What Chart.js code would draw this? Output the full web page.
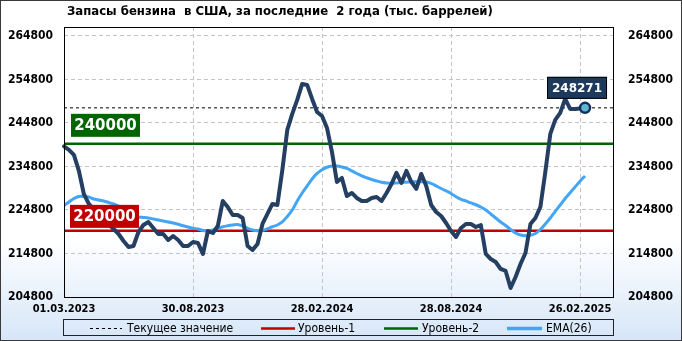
<!DOCTYPE html>
<html><head><meta charset="utf-8">
<script src="https://cdn.jsdelivr.net/npm/chart.js@4.4.1/dist/chart.umd.min.js"></script>
<style>html,body{margin:0;padding:0;background:#fff;}canvas{display:block;}</style>
</head><body>
<canvas id="c" width="682" height="341"></canvas>
<script>
const titleText = 'Запасы бензина  в США, за последние  2 года (тыс. баррелей)';
const tickPositions = [0, 26, 52, 78, 104];
const tickLabels = ['01.03.2023', '30.08.2023', '28.02.2024', '28.08.2024', '26.02.2025'];
const yTicks = [204800, 214800, 224800, 234800, 244800, 254800, 264800];
const stocks = [
  239400, 238600, 237450, 233770, 228480, 226180, 225030, 223880, 222730, 221580,
  220430, 219280, 217670, 216300, 216520, 219740, 221350, 222040, 220660, 219280,
  219280, 217900, 218820, 217900, 216520, 216520, 217440, 217210, 214690, 219970,
  219510, 221120, 226870, 225490, 223650, 223650, 222960, 216520, 215610, 216990,
  221580, 223880, 226180, 225950, 234000, 243190, 246870, 250090, 253770, 253540,
  250320, 247330, 246410, 243650, 238140, 231240, 232160, 228020, 228710, 227560,
  226870, 226870, 227560, 227790, 226870, 228710, 230780, 233310, 231010, 233770,
  231240, 229630, 233080, 230320, 225950, 224340, 223420, 221810, 219970, 218590,
  220660, 221580, 221580, 220890, 221350, 214690, 213540, 212850, 211240, 210780,
  206870, 209400, 212390, 214920, 221580, 222960, 225490, 233540, 242270, 245490,
  247100, 250320, 248020, 248020, 248100, 248271
];
const ema26 = [
  225840, 226640, 227450, 227910, 227910, 227790, 227330, 227100, 226870, 226530,
  226180, 225720, 225030, 224340, 223650, 223190, 223080, 222960, 222730, 222500,
  222270, 222040, 221810, 221510, 221170, 220890, 220590, 220430, 220090, 219930,
  220200, 220550, 220940, 221170, 221350, 221470, 221120, 220590, 220200, 220040,
  220130, 220480, 220940, 221350, 222040, 223310, 224800, 226870, 228710, 230320,
  231930, 233190, 234040, 234620, 234920, 234920, 234690, 234340, 233770, 233190,
  232620, 232200, 231810, 231470, 231170, 231010, 230940, 231010, 231100, 231190,
  231260, 231310, 231280, 231240, 230890, 230320, 229740, 229170, 228600, 227840,
  227260, 226870, 226410, 226000, 225490, 224800, 223880, 222960, 222040, 221240,
  220320, 219510, 219050, 218890, 218990, 219400, 220320, 221580, 222960, 224460,
  225950, 227450, 228760, 230090, 231420, 232620
];
const level1 = 220000;
const level2 = 240000;
const legendLabels = ['Текущее значение', 'Уровень-1', 'Уровень-2', 'EMA(26)'];

const X_MIN = 0, X_MAX = 110.84;
const Y_MIN = 204800, Y_MAX = 266850;
const FAM = '"DejaVu Sans Condensed", "DejaVu Sans", sans-serif';
const NAVY = '#243f62';
const RED = '#c00000';
const GREEN = '#006400';
const BLUE = '#42a5f5';
const current = stocks[stocks.length - 1];
const lastIdx = stocks.length - 1;

const bgPlugin = {
  id: 'bg',
  beforeDraw(chart) {
    const ctx = chart.ctx, W = chart.width, H = chart.height;
    const g = ctx.createLinearGradient(0, 0, 0, H);
    g.addColorStop(0, '#ffffff');
    g.addColorStop(0.70, '#ffffff');
    g.addColorStop(1, '#d6e6f8');
    ctx.save();
    ctx.fillStyle = g;
    ctx.fillRect(0, 0, W, H);
    ctx.restore();
  }
};

function box(ctx, text, x, y, w, h, fill, font, stroke) {
  ctx.save();
  ctx.fillStyle = fill;
  ctx.fillRect(x, y, w, h);
  if (stroke) { ctx.strokeStyle = stroke; ctx.lineWidth = 1; ctx.strokeRect(x + 0.5, y + 0.5, w - 1, h - 1); }
  ctx.fillStyle = '#ffffff';
  ctx.font = font;
  ctx.textAlign = 'center';
  ctx.textBaseline = 'middle';
  ctx.fillText(text, x + w / 2, y + h / 2 + 1);
  ctx.restore();
}

const overlayPlugin = {
  id: 'overlay',
  afterDatasetsDraw(chart) {
    const ctx = chart.ctx, a = chart.chartArea;
    const ys = chart.scales.y, xs = chart.scales.x;
    ctx.save();
    ctx.strokeStyle = '#000';
    ctx.lineWidth = 1;
    ctx.strokeRect(Math.round(a.left) + 0.5, Math.round(a.top) + 0.5, Math.round(a.right - a.left) - 1, Math.round(a.bottom - a.top));
    ctx.restore();
    const bf = 'bold 15px "DejaVu Sans", sans-serif';
    const y2 = ys.getPixelForValue(level2);
    box(ctx, String(level2), a.left + 7, y2 - 30, 69, 23, '#006600', bf);
    const y1 = ys.getPixelForValue(level1);
    box(ctx, String(level1), a.left + 6, y1 - 26, 69, 23, RED, bf);
    const px = xs.getPixelForValue(lastIdx), py = ys.getPixelForValue(current);
    box(ctx, String(current), px - 38, py - 31, 60, 22, '#1d3a5c', 'bold 12px "DejaVu Sans", sans-serif', '#000');
  },
  afterDraw(chart) {
    const ctx = chart.ctx;
    ctx.save();
    ctx.fillStyle = '#000';
    ctx.font = 'bold 13px ' + FAM;
    ctx.textAlign = 'left';
    ctx.textBaseline = 'middle';
    ctx.fillText(titleText, 67, 12);
    const ly = 328;
    ctx.strokeStyle = '#222';
    ctx.lineWidth = 1;
    ctx.strokeRect(63.5, 319.5, 550, 16);
    ctx.font = '12px ' + FAM;
    ctx.textBaseline = 'middle';
    const items = [
      {x1: 90, x2: 122, tx: 127, color: '#000', w: 1, dash: [3, 3]},
      {x1: 261, x2: 295, tx: 298, color: RED, w: 2.5, dash: []},
      {x1: 384, x2: 418, tx: 422, color: GREEN, w: 2.5, dash: []},
      {x1: 507, x2: 542, tx: 546, color: BLUE, w: 3.5, dash: []}
    ];
    items.forEach((it, i) => {
      ctx.beginPath();
      ctx.setLineDash(it.dash);
      ctx.strokeStyle = it.color;
      ctx.lineWidth = it.w;
      ctx.moveTo(it.x1, ly + 0.5);
      ctx.lineTo(it.x2, ly + 0.5);
      ctx.stroke();
      ctx.setLineDash([]);
      ctx.fillStyle = '#000';
      ctx.fillText(legendLabels[i], it.tx, ly + 1);
    });
    ctx.strokeStyle = '#3a3a3a';
    ctx.lineWidth = 1;
    ctx.strokeRect(0.5, 0.5, chart.width - 1, chart.height - 1);
    ctx.restore();
  }
};

const xFont = {family: FAM, size: 11, weight: 'bold'};
const yFont = {family: FAM, size: 12, weight: 'bold'};

new Chart(document.getElementById('c'), {
  type: 'line',
  data: {
    datasets: [
      {
        label: 'stocks',
        data: stocks.map((v, i) => ({x: i, y: v})),
        borderColor: NAVY,
        borderWidth: 4,
        tension: 0,
        pointRadius: ctx => ctx.dataIndex === lastIdx ? 5 : 0,
        pointBackgroundColor: '#5fb6cf',
        pointBorderColor: '#13305a',
        pointBorderWidth: 2.5,
        borderJoinStyle: 'round',
        borderCapStyle: 'round',
        clip: false,
        order: 0
      },
      {
        label: 'EMA(26)',
        data: ema26.map((v, i) => ({x: i, y: v})),
        borderColor: BLUE,
        borderWidth: 3,
        tension: 0.3,
        pointRadius: 0,
        order: 1
      },
      {
        label: 'current',
        data: [{x: X_MIN, y: current}, {x: X_MAX, y: current}],
        borderColor: '#000',
        borderWidth: 1,
        borderDash: [3, 3],
        pointRadius: 0,
        order: 2
      },
      {
        label: 'level2',
        data: [{x: X_MIN, y: level2}, {x: X_MAX, y: level2}],
        borderColor: GREEN,
        borderWidth: 2.5,
        pointRadius: 0,
        order: 3
      },
      {
        label: 'level1',
        data: [{x: X_MIN, y: level1}, {x: X_MAX, y: level1}],
        borderColor: RED,
        borderWidth: 2.5,
        pointRadius: 0,
        order: 4
      }
    ]
  },
  options: {
    responsive: false,
    animation: false,
    devicePixelRatio: 1,
    layout: {padding: {top: 27, left: 0, right: 0, bottom: 0}},
    plugins: {legend: {display: false}, tooltip: {enabled: false}, title: {display: false}},
    scales: {
      x: {
        type: 'linear', min: X_MIN, max: X_MAX,
        afterBuildTicks(s) { s.ticks = tickPositions.map(v => ({value: v})); },
        afterFit(s) { s.height = 44; },
        ticks: {
          font: xFont, color: '#000', padding: 6, maxRotation: 0, autoSkip: false,
          callback: (v) => { const k = tickPositions.indexOf(v); return k >= 0 ? tickLabels[k] : ''; }
        },
        grid: {color: '#c4c4c4', drawTicks: false, lineWidth: 1},
        border: {display: false, dash: [4, 3]}
      },
      y: {
        type: 'linear', position: 'left', min: Y_MIN, max: Y_MAX,
        afterBuildTicks(s) { s.ticks = yTicks.map(v => ({value: v})); },
        afterFit(s) { s.width = 64; },
        ticks: {font: yFont, color: '#000', padding: 11, callback: v => String(v)},
        grid: {color: '#c4c4c4', drawTicks: false, lineWidth: 1},
        border: {display: false, dash: [4, 3]}
      },
      y2: {
        type: 'linear', position: 'right', min: Y_MIN, max: Y_MAX,
        afterBuildTicks(s) { s.ticks = yTicks.map(v => ({value: v})); },
        afterFit(s) { s.width = 68; },
        ticks: {font: yFont, color: '#000', padding: 14, callback: v => String(v)},
        grid: {display: false, drawTicks: false},
        border: {display: false}
      }
    }
  },
  plugins: [bgPlugin, overlayPlugin]
});
</script>
</body></html>
